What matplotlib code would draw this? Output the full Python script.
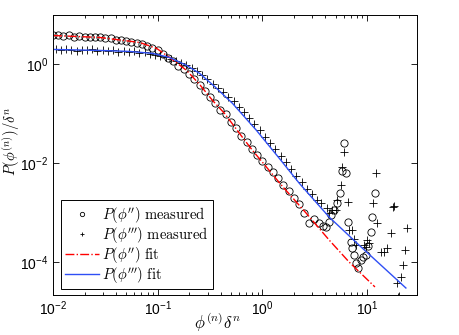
import numpy as np
import matplotlib
matplotlib.use("Agg")
import matplotlib.pyplot as plt
from matplotlib.ticker import LogLocator, NullLocator

# P(phi'') measured (circles)
circ_x = [0.0100, 0.0112, 0.0126, 0.0141, 0.0158, 0.0178, 0.0200, 0.0224, 0.0251, 0.0282,
          0.0316, 0.0355, 0.0398, 0.0447, 0.0501, 0.0562, 0.0631, 0.0708, 0.0794, 0.0891,
          0.100, 0.112, 0.126, 0.141, 0.158, 0.178, 0.200, 0.224, 0.251, 0.282,
          0.316, 0.355, 0.398, 0.447, 0.501, 0.562, 0.631, 0.708, 0.794, 0.891,
          1.00, 1.12, 1.26, 1.41, 1.58, 1.78, 2.00, 2.24, 2.51,
          2.81, 3.13, 3.49, 3.81, 4.07, 4.35, 4.54, 4.85, 5.18, 5.53,
          5.78, 6.31, 6.04, 6.59, 7.05, 7.19, 7.52, 7.85, 8.20, 8.77,
          9.16, 9.77, 10.2, 10.9, 11.2, 11.9]
circ_y = [3.98, 3.89, 3.80, 3.85, 3.63, 3.76, 3.59, 3.63, 3.51, 3.55,
          3.39, 3.35, 3.16, 3.16, 2.95, 2.88, 2.75, 2.63, 2.40, 2.19,
          1.95, 1.66, 1.38, 1.15, 0.933, 0.794, 0.631, 0.501, 0.380, 0.295,
          0.214, 0.166, 0.120, 0.0977, 0.0676, 0.0513, 0.0355, 0.0269, 0.0191, 0.0145,
          0.0110, 8.32e-3, 6.76e-3, 5.01e-3, 3.63e-3, 2.69e-3, 2.00e-3, 1.48e-3, 1.00e-3,
          6.14e-4, 7.40e-4, 6.14e-4, 5.33e-4, 5.09e-4, 6.43e-4, 8.89e-4, 1.12e-3, 1.56e-3, 2.48e-3,
          6.89e-3, 6.28e-3, 0.0254, 6.43e-4, 2.54e-4, 1.92e-4, 1.38e-4, 9.55e-5, 7.57e-5, 1.10e-4,
          1.26e-4, 1.38e-4, 2.10e-4, 4.04e-4, 8.11e-4, 2.48e-3]

# P(phi''') measured (crosses)
cross_x = [0.0106, 0.0119, 0.0133, 0.0150, 0.0168, 0.0188, 0.0211, 0.0237, 0.0266, 0.0299,
           0.0335, 0.0376, 0.0422, 0.0473, 0.0531, 0.0596, 0.0668, 0.0750, 0.0841, 0.0944,
           0.106, 0.119, 0.133, 0.150, 0.168, 0.188, 0.211, 0.237, 0.266, 0.299,
           0.335, 0.376, 0.422, 0.473, 0.531, 0.596, 0.668, 0.750, 0.841, 0.944,
           1.06, 1.19, 1.33, 1.50, 1.68, 1.88, 2.11, 2.37, 2.66, 2.99, 3.35,
           3.65, 4.16, 4.35, 4.64, 5.07, 5.18, 5.65, 5.78, 6.04, 6.59,
           6.74, 7.19, 7.52, 7.85, 9.36, 9.77, 10.4, 10.1, 11.4, 12.2,
           12.5, 13.6, 14.5, 15.5, 16.9, 17.7, 18.1, 24.0, 23.0, 22.0,
           21.1, 19.3, 19.6]
cross_y = [2.04, 1.95, 2.04, 2.00, 1.91, 2.00, 1.95, 2.04, 1.91, 1.95,
           1.86, 1.95, 1.82, 1.91, 1.82, 1.86, 1.74, 1.78, 1.62, 1.58,
           1.48, 1.41, 1.29, 1.17, 1.07, 0.977, 0.851, 0.741, 0.617, 0.501,
           0.407, 0.331, 0.275, 0.219, 0.178, 0.138, 0.107, 0.0813, 0.0617, 0.0468,
           0.0347, 0.0257, 0.0191, 0.0138, 0.0105, 7.59e-3, 5.62e-3, 4.17e-3, 3.02e-3, 2.34e-3, 1.82e-3,
           1.55e-3, 1.23e-3, 9.77e-4, 1.12e-3, 1.12e-3, 1.79e-3, 3.60e-3, 8.30e-3, 0.0167, 1.63e-3,
           4.43e-4, 4.43e-4, 2.92e-4, 2.20e-4, 2.20e-4, 2.01e-4, 2.42e-4, 2.78e-4, 1.56e-3, 6.28e-3,
           6.14e-4, 1.59e-4, 1.59e-4, 1.92e-4, 3.85e-4, 1.29e-3, 1.35e-3, 4.86e-4, 1.75e-4, 8.69e-5,
           4.98e-5, 3.77e-5, 1.96e-5]

# fit curves
fit2_x = [0.01, 0.0281, 0.0674, 0.0977, 0.130, 0.189, 0.251, 0.334, 0.435, 0.645,
          0.803, 1.0, 1.55, 2.62, 4.35, 6.74, 11.9]
fit2_y = [3.85, 3.51, 2.78, 2.11, 1.38, 0.756, 0.395, 0.187, 0.102, 0.0335,
          0.0183, 0.0105, 3.43e-3, 9.77e-4, 2.78e-4, 1.0e-4, 3.13e-5]
fit3_x = [0.01, 0.0281, 0.0541, 0.0896, 0.130, 0.189, 0.251, 0.349, 0.518, 0.877,
          1.45, 2.25, 4.35, 8.39, 23.5]
fit3_y = [2.01, 1.92, 1.83, 1.67, 1.38, 0.954, 0.660, 0.359, 0.163, 0.0464,
          0.0126, 3.94e-3, 8.11e-4, 2.20e-4, 2.98e-5]


def generate_plot(output_file):
    plt.rcParams['font.family'] = ['Liberation Sans', 'DejaVu Sans']
    plt.rcParams['mathtext.fontset'] = 'cm'
    plt.rcParams['font.size'] = 10

    fig = plt.figure(figsize=(4.6, 3.35), dpi=100)
    ax = fig.add_axes([0.1152, 0.1194, 0.7913, 0.8358])

    # measured points first, fits on top
    ax.loglog(circ_x, circ_y, 'o', mfc='none', mec='black', ms=5.2, mew=0.6,
              label=r"$P(\phi'')\ \mathrm{measured}$")
    ax.loglog(cross_x, cross_y, '+', color='black', ms=5.5, mew=0.6,
              label=r"$P(\phi''')\ \mathrm{measured}$")
    ax.loglog(fit2_x, fit2_y, '-.', color='red', lw=1.0,
              label=r"$P(\phi'')\ \mathrm{fit}$")
    ax.loglog(fit3_x, fit3_y, '-', color='#2f4ff5', lw=1.0,
              label=r"$P(\phi''')\ \mathrm{fit}$")

    ax.set_xlim(0.01, 30)
    ax.set_ylim(2.15e-5, 10)

    ax.set_yticks([1e-4, 1e-2, 1e0])
    ax.yaxis.set_minor_locator(NullLocator())
    ax.xaxis.set_minor_locator(LogLocator(base=10, subs=np.arange(2, 10), numticks=20))
    ax.tick_params(which='both', direction='in', top=True, right=True, width=0.6)
    ax.tick_params(which='major', length=4, labelsize=10)
    ax.tick_params(which='minor', length=2)
    for s in ax.spines.values():
        s.set_linewidth(0.7)

    ax.set_xlabel(r"$\phi^{(n)}\delta^n$", fontsize=12)
    ax.set_ylabel(r"$P(\phi^{(n)})/\delta^n$", fontsize=10.5)
    ax.xaxis.set_label_coords(0.453, -0.058)
    ax.yaxis.set_label_coords(-0.086, 0.55)

    leg = ax.legend(loc='lower left', bbox_to_anchor=(0.022, 0.021), borderaxespad=0,
                    fontsize=10.5, fancybox=False, edgecolor='black', framealpha=1,
                    handlelength=2.3, markerscale=0.6, labelspacing=0.0,
                    borderpad=0.3, handletextpad=0.2)
    leg.get_frame().set_linewidth(0.7)

    plt.savefig(output_file, dpi=100)


generate_plot("out.png")
